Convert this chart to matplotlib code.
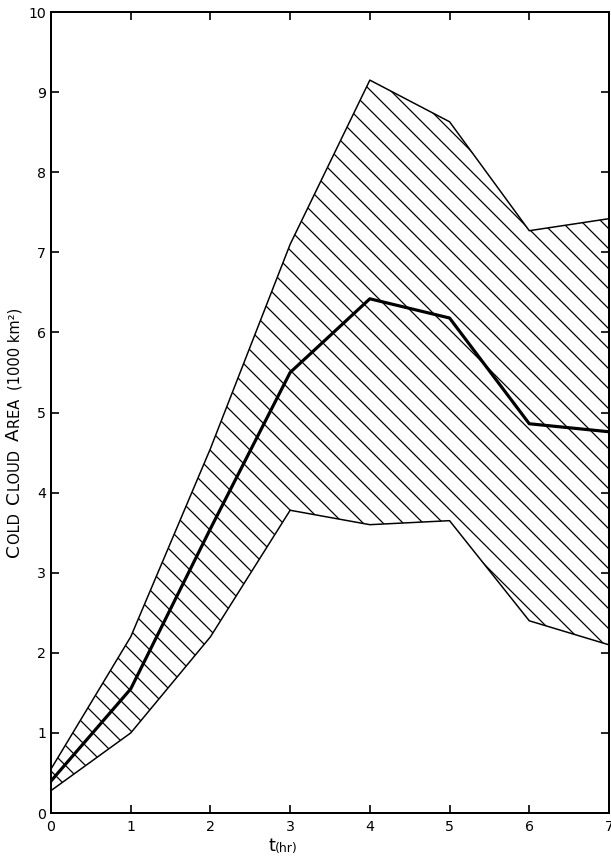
import matplotlib
matplotlib.use('Agg')
import matplotlib.pyplot as plt

# hours after start
t_hr = [0, 1, 2, 3, 4, 5, 6, 7]
# cold cloud area, 1000 km^2
upper = [0.55, 2.2, 4.55, 7.1, 9.15, 8.63, 7.27, 7.42]
mean = [0.4, 1.55, 3.55, 5.5, 6.42, 6.18, 4.86, 4.76]
lower = [0.28, 1.0, 2.2, 3.78, 3.6, 3.65, 2.4, 2.1]

x_ticks = [0, 1, 2, 3, 4, 5, 6, 7]
y_ticks = [0, 1, 2, 3, 4, 5, 6, 7, 8, 9, 10]

plt.rcParams['font.family'] = 'DejaVu Sans'
plt.rcParams['hatch.linewidth'] = 0.75

dpi = 120
fig = plt.figure(figsize=(611 / dpi, 859 / dpi), dpi=dpi)
ax = fig.add_axes([0.0835, 0.0535, 0.9132, 0.9325])

ax.fill_between(t_hr, lower, upper, facecolor='none', edgecolor='black',
                hatch='\\\\', linewidth=0)
ax.plot(t_hr, upper, color='black', lw=0.9)
ax.plot(t_hr, lower, color='black', lw=0.9)
ax.plot(t_hr, mean, color='black', lw=1.9)

ax.set_xlim(0, 7)
ax.set_ylim(0, 10)
ax.set_xticks(x_ticks)
ax.set_yticks(y_ticks)
ax.tick_params(direction='in', length=5, width=1.0, top=True, right=True,
               labelsize=8.5, colors='black')
ax.tick_params(axis='y', pad=3)
ax.tick_params(axis='x', pad=4)
for s in ax.spines.values():
    s.set_linewidth(1.2)

# y label in small caps, built from pieces
big, small = 11, 8.8
pieces = [('C', big), ('OLD  ', small), ('C', big), ('LOUD  ', small),
          ('A', big), ('REA  ', small), ('(1000 km²)', small)]
prev = fig.text(0.037, 0.352, pieces[0][0], fontsize=pieces[0][1],
                rotation=90, ha='right', va='bottom')
for txt, fs in pieces[1:]:
    prev = ax.annotate(txt, xy=(1, 1), xycoords=prev, fontsize=fs,
                       rotation=90, ha='right', va='bottom',
                       annotation_clip=False)

# x label
tl = fig.text(0.450, 0.005, 't', fontsize=10.5, ha='right', va='bottom')
ax.annotate('(hr)', xy=(1, 0), xycoords=tl, fontsize=7.5, ha='left',
            va='bottom', annotation_clip=False)

fig.savefig('out.png', dpi=dpi)
